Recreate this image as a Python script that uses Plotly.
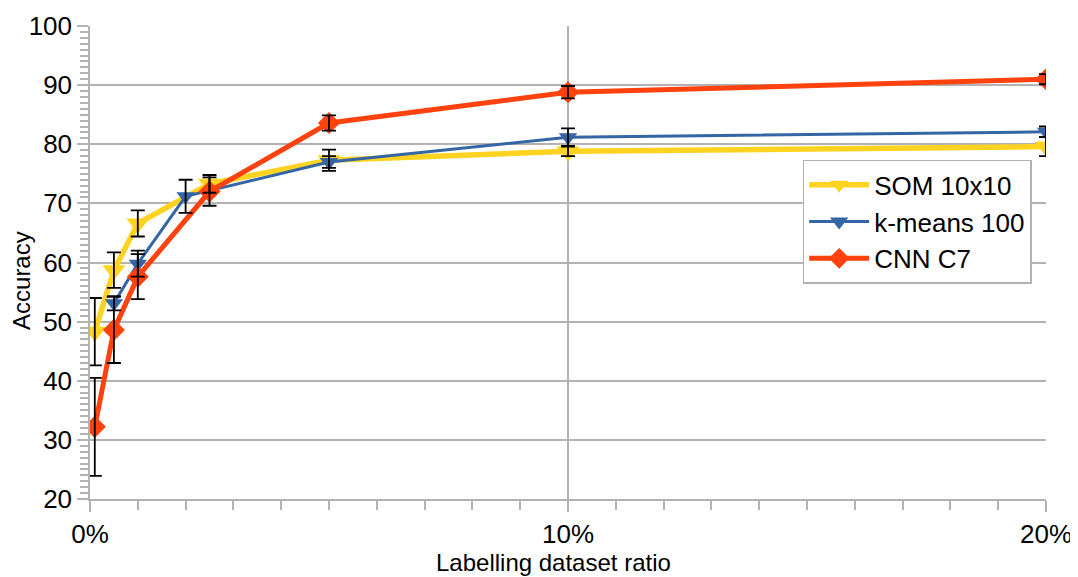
import plotly.graph_objects as go

# labelling ratio (%) per series
som_x = [0.1, 0.5, 1, 2.5, 5, 10, 20]
som_y = [48.3, 58.7, 66.6, 73.3, 77.3, 78.8, 79.6]
som_err = [5.7, 3.0, 2.2, 1.5, 1.8, 0.8, 1.6]

km_x = [0.5, 1, 2, 5, 10, 20]
km_y = [53.1, 59.8, 71.2, 77.0, 81.2, 82.1]
km_err = [1.2, 2.2, 2.8, 1.0, 1.5, 0.9]

cnn_x = [0.1, 0.5, 1, 2.5, 5, 10, 20]
cnn_y = [32.2, 48.6, 57.6, 72.0, 83.6, 88.8, 91.0]
cnn_err = [8.3, 5.6, 3.8, 2.4, 1.3, 1.05, 0.85]

series = [
    ("SOM 10x10", som_x, som_y, som_err, "#ffd320", 5.5, "triangle-down", 20),
    ("k-means 100", km_x, km_y, km_err, "#3465a4", 3, "triangle-down", 16),
    ("CNN C7", cnn_x, cnn_y, cnn_err, "#ff420e", 5, "diamond", 17),
]

FONT = "Liberation Sans, Arial, sans-serif"
GRID = "#b3b3b3"

fig = go.Figure()
for name, xs, ys, _, color, lw, sym, ms in series:
    fig.add_trace(go.Scatter(
        x=xs, y=ys, name=name, mode="lines+markers",
        line=dict(color=color, width=lw),
        marker=dict(symbol=sym, size=ms, color=color),
    ))

# error bars on top of everything
for name, xs, ys, err, color, lw, sym, ms in series:
    fig.add_trace(go.Scatter(
        x=xs, y=ys, mode="markers", showlegend=False, hoverinfo="skip",
        marker=dict(color="rgba(0,0,0,0)", size=1),
        error_y=dict(type="data", array=err, visible=True,
                     color="black", thickness=1.8, width=7),
    ))

# page body has an 8px margin, so the figure is a bit smaller than the window
fig.update_layout(
    width=1070, height=569,
    font=dict(family=FONT, size=26, color="black"),
    plot_bgcolor="white", paper_bgcolor="white",
    margin=dict(l=82, r=32, t=18, b=78),
    legend=dict(
        x=0.985, y=0.586, xanchor="right", yanchor="middle",
        bgcolor="white", bordercolor=GRID, borderwidth=1.5,
        font=dict(size=26), itemwidth=60, tracegroupgap=0,
    ),
    showlegend=True,
    annotations=[
        dict(text="Accuracy", textangle=-90, xref="paper", yref="paper",
             x=-0.0711, y=0.461, showarrow=False, font=dict(size=24),
             xanchor="center", yanchor="middle"),
        dict(text="Labelling dataset ratio", xref="paper", yref="paper",
             x=0.485, y=-0.135, showarrow=False, font=dict(size=24),
             xanchor="center", yanchor="middle"),
    ],
)

fig.update_xaxes(
    range=[0, 20], tickvals=[0, 10, 20], ticktext=["0%", "10%", "20%"],
    automargin=False,
    showgrid=True, gridcolor=GRID, gridwidth=1.5,
    showline=True, linecolor=GRID, linewidth=1.5,
    ticks="outside", ticklen=11, tickcolor=GRID, tickwidth=1.5,
    minor=dict(dtick=1, ticks="outside", ticklen=9, tickcolor=GRID, showgrid=False),
    zeroline=False,
)

fig.update_yaxes(
    range=[20, 100], dtick=10,
    automargin=False,
    showgrid=True, gridcolor=GRID, gridwidth=1.5,
    showline=True, linecolor=GRID, linewidth=1.5,
    ticks="outside", ticklen=11, tickcolor=GRID, tickwidth=1.5,
    minor=dict(dtick=1, ticks="outside", ticklen=8, tickcolor=GRID, showgrid=False),
    zeroline=False,
)

fig.write_html("out.html")
